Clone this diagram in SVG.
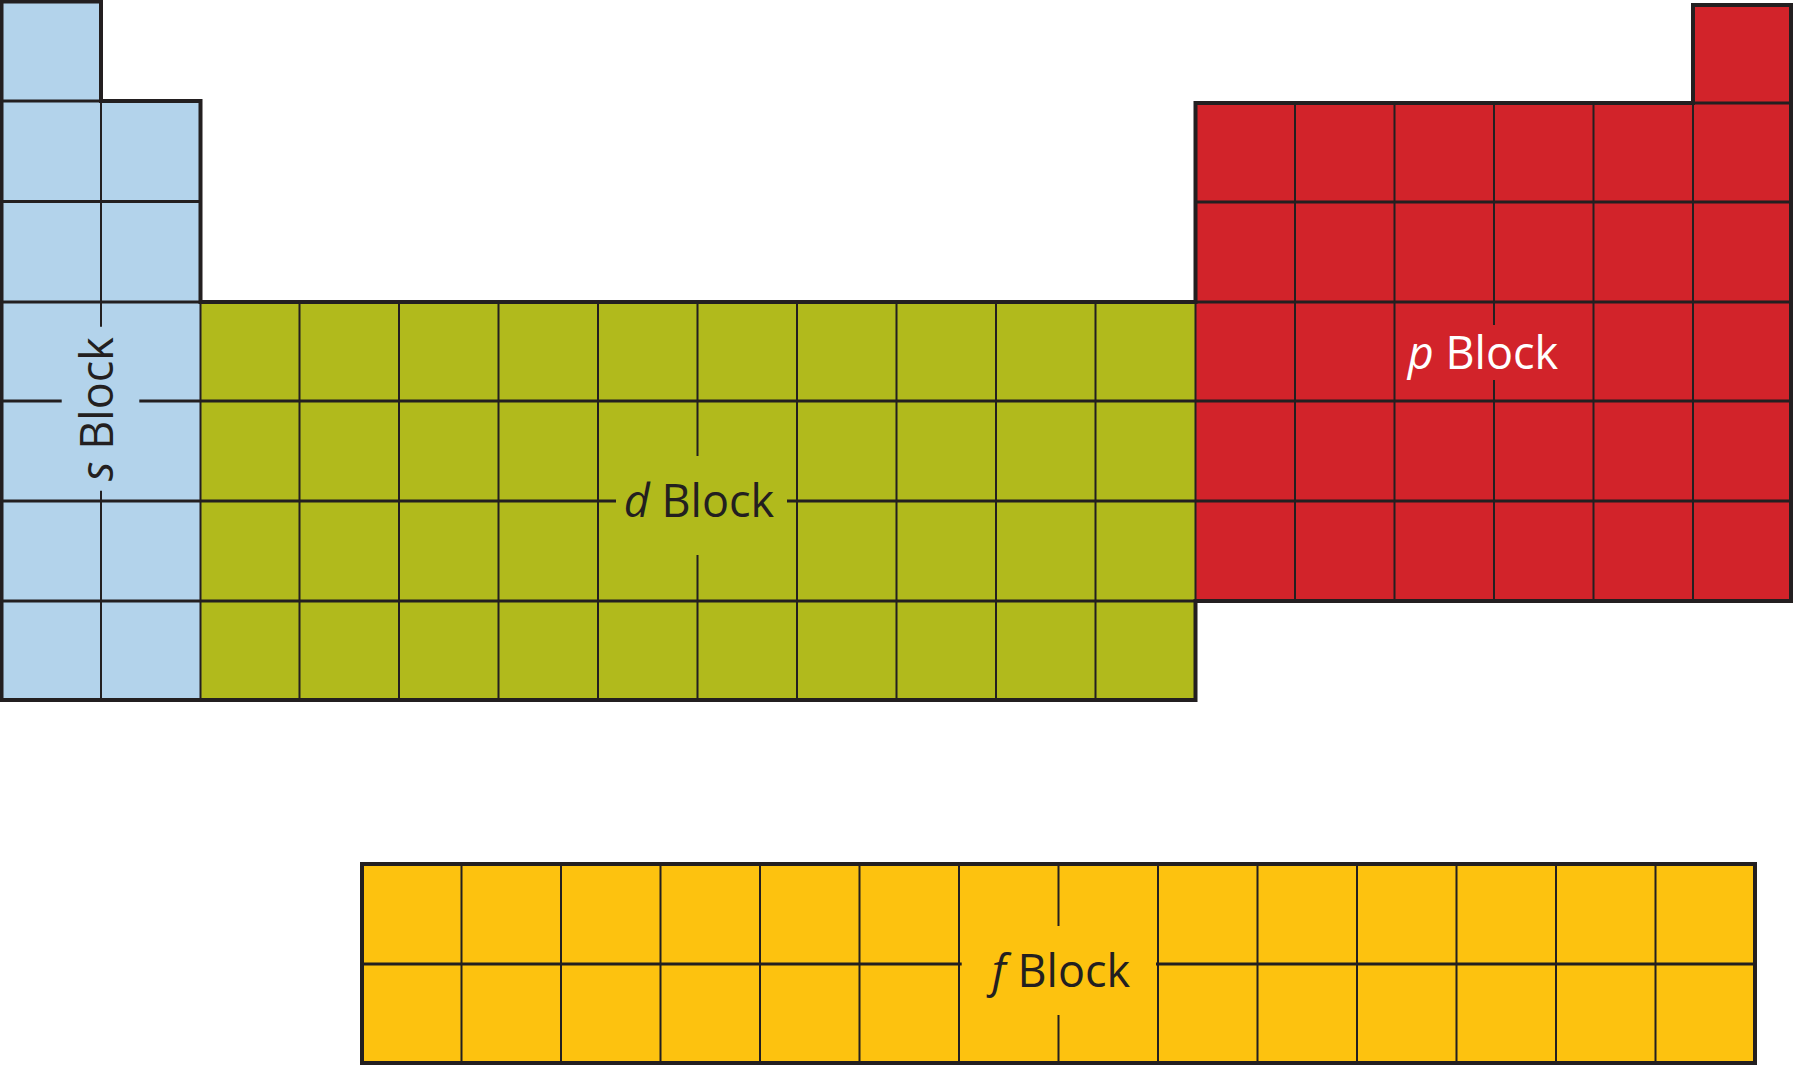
<svg xmlns="http://www.w3.org/2000/svg" width="1794" height="1066" viewBox="0 0 1794 1066">
<style>
.lbl{font-family:"Open Sans","Noto Sans","Liberation Sans",sans-serif;font-size:45px;fill:#231f20;text-anchor:middle}
.it{font-style:italic}
.h{stroke:#231f20;stroke-width:3.2;fill:none}
.v{stroke:#231f20;stroke-width:2;fill:none}
.o{stroke:#231f20;stroke-width:4;fill:none;stroke-linejoin:miter}
</style>
<rect x="0" y="0" width="1794" height="1066" fill="#ffffff"/>
<g id="s-block">
<polygon points="1.5,1.5 101,1.5 101,101 200.5,101 200.5,700 1.5,700" fill="#b3d3eb"/>
<text class="lbl" transform="translate(113,409) rotate(-90)"><tspan class="it">s</tspan> Block</text>
</g>
<g id="d-block">
<rect x="200.5" y="302" width="995" height="398" fill="#b1ba1c"/>
<text class="lbl" x="699" y="517"><tspan class="it">d</tspan> Block</text>
</g>
<g id="p-block">
<polygon points="1195.5,103 1693,103 1693,5 1791,5 1791,601 1195.5,601" fill="#d2232a"/>
<text class="lbl" x="1483" y="369" style="fill:#ffffff"><tspan class="it">p</tspan> Block</text>
</g>
<g id="f-block">
<rect x="362" y="864" width="1393" height="199" fill="#fdc20f"/>
<text class="lbl" x="1061" y="987"><tspan class="it">f</tspan> Block</text>
</g>
<g id="grid">
<path class="v" d="M101,101V326.7M101,490.7V700M200.5,302V700M299.5,302V700M399,302V700M498.5,302V700M598,302V700M697.5,302V456M697.5,555V700M797,302V700M896.5,302V700M996,302V700M1095.5,302V700M1195.5,302V601M1295,103V601M1394.5,103V601M1494,103V325M1494,380V601M1593.5,103V601M1693,103V601"/>
<path class="h" d="M1.5,101H200.5M1.5,201.5H200.5M1195.5,202H1791M1195.5,103H1791M1.5,302H1791M1.5,401H61.7M139.3,401H1791M1.5,501H616M787,501H1791M1.5,601H1791"/>
<path class="o" d="M1.5,700V1.5H101V101H200.5V302H1195.5V103H1693V5H1791V601H1195.5V700Z"/>
<path class="v" d="M461.5,864V1063M561,864V1063M660.5,864V1063M760,864V1063M859.5,864V1063M959,864V1063M1058.5,864V926M1058.5,1015V1063M1158,864V1063M1257.5,864V1063M1357,864V1063M1456.5,864V1063M1556,864V1063M1655.5,864V1063"/>
<path class="h" d="M362,964H961.7M1156,964H1755"/>
<rect class="o" x="362" y="864" width="1393" height="199"/>
</g>
</svg>
